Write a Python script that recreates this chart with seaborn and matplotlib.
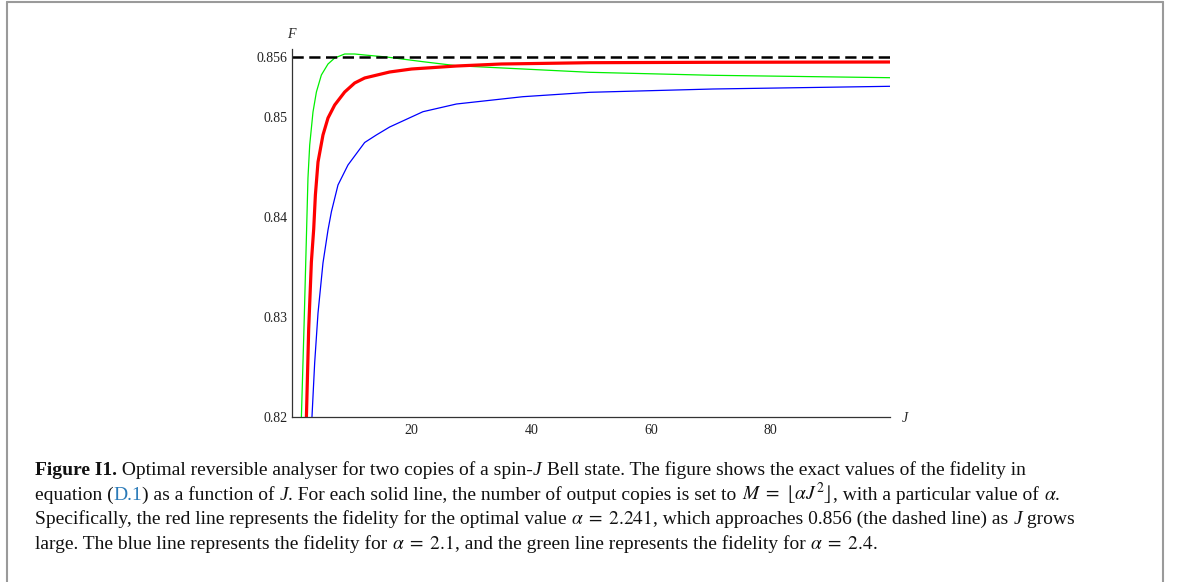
import numpy as np
import matplotlib
matplotlib.use("Agg")
import matplotlib.pyplot as plt
import seaborn as sns
from matplotlib.lines import Line2D
from matplotlib.font_manager import FontProperties

# values
J_red = [2.41, 2.79, 3.24, 3.63, 3.91, 4.35, 5.18, 6.02, 7.14, 8.81, 10.48, 12.15, 16.33,
         20, 27.5, 35, 49.8, 70, 100]
F_red = [0.8200, 0.8288, 0.8355, 0.8388, 0.8422, 0.8455, 0.8482, 0.8499, 0.8512, 0.8525,
         0.8534, 0.8539, 0.8545, 0.8548, 0.8551, 0.8553, 0.85543, 0.85547, 0.8555]

J_green = [1.57, 2.0, 2.41, 2.67, 2.96, 3.51, 4.08, 4.91, 6.02, 7.14, 8.81, 10.48, 12.15,
           15.8, 21.9, 27.5, 49.8, 70.4, 100]
F_green = [0.8200, 0.8288, 0.8380, 0.8439, 0.8472, 0.8505, 0.8525, 0.8542, 0.8553, 0.8559,
           0.8563, 0.8563, 0.8562, 0.8560, 0.85553, 0.85513, 0.85447, 0.85417, 0.85393]

J_blue = [3.34, 3.79, 4.35, 5.18, 6.02, 6.59, 7.69, 9.36, 12.15, 14.1, 16.33, 21.9, 27.5,
          38.6, 49.8, 70.4, 100]
F_blue = [0.8200, 0.8254, 0.8304, 0.8354, 0.8387, 0.84053, 0.8432, 0.8452, 0.84745, 0.8482,
          0.8490, 0.85053, 0.8513, 0.85203, 0.85247, 0.8528, 0.85307]

F_limit = 0.856
y_ticks = [0.82, 0.83, 0.84, 0.85, 0.856]
y_ticklabels = ["0.82", "0.83", "0.84", "0.85", "0.856"]
x_ticks = [20, 40, 60, 80]

caption_lines = [
    [("Figure I1.", "b"), (" Optimal reversible analyser for two copies of a spin-", "n"), ("J", "i"),
     (" Bell state. The figure shows the exact values of the fidelity in", "n")],
    [("equation (", "n"), ("D.1", "link"), (") as a function of ", "n"), ("J", "i"),
     (". For each solid line, the number of output copies is set to ", "n"),
     (r"$M\;=\;\lfloor\alpha J^{2}\rfloor$", "n"), (", with a particular value of ", "n"),
     (r"$\alpha$", "n"), (".", "n")],
    [("Specifically, the red line represents the fidelity for the optimal value ", "n"),
     (r"$\alpha\;=\;2.241$", "n"), (", which approaches 0.856 (the dashed line) as ", "n"),
     ("J", "i"), (" grows", "n")],
    [("large. The blue line represents the fidelity for ", "n"), (r"$\alpha\;=\;2.1$", "n"),
     (", and the green line represents the fidelity for ", "n"), (r"$\alpha\;=\;2.4$", "n"), (".", "n")],
]

sns.set_style("white")
plt.rcParams['font.family'] = ['Liberation Serif', 'DejaVu Serif']
plt.rcParams['mathtext.fontset'] = 'stix'

W, H = 1179, 582
fig = plt.figure(figsize=(W / 100, H / 100), dpi=100)
ax = fig.add_axes([292 / W, 1 - 417 / H, (890 - 292) / W, (417 - 49) / H])

sns.lineplot(x=J_blue, y=F_blue, color="#0000ff", lw=0.9, ax=ax)
sns.lineplot(x=J_green, y=F_green, color="#00f000", lw=0.9, ax=ax)
sns.lineplot(x=J_red, y=F_red, color="#ff0000", lw=2.3, ax=ax)
ax.plot([0, 100], [F_limit, F_limit], color="black", lw=1.8, ls=(0, (4.5, 2.2)))

ax.set_xlim(0, 100)
ax.set_ylim(0.82, 0.8568)
ax.set_xticks(x_ticks)
ax.set_xticklabels([str(v) for v in x_ticks])
ax.set_yticks(y_ticks)
ax.set_yticklabels(y_ticklabels)
ax.tick_params(direction="in", length=4, width=0.8, labelsize=10, colors="#222222")
ax.tick_params(axis="x", pad=5)
ax.tick_params(axis="y", pad=3)
sns.despine(ax=ax, top=True, right=True)
for s in ["left", "bottom"]:
    ax.spines[s].set_color("#333333")
    ax.spines[s].set_linewidth(0.9)

fig.text(291 / W, 1 - 34 / H, "F", style="italic", fontsize=10, ha="center", va="center")
fig.text(902 / W, 1 - 418 / H, "J", style="italic", fontsize=10, ha="left", va="center")

# caption, drawn run by run
renderer = fig.canvas.get_renderer()
cap_size = 14.0
styles = {
    "n": dict(),
    "b": dict(weight="bold"),
    "i": dict(style="italic"),
    "link": dict(color="#2a7ab8"),
}


def run_width(s, kw):
    fp = FontProperties(family=['Liberation Serif', 'DejaVu Serif'], size=cap_size,
                        weight=kw.get("weight", "normal"), style=kw.get("style", "normal"))
    math = "$" in s
    w1 = renderer.get_text_width_height_descent(s + "|", fp, ismath=math)[0]
    w0 = renderer.get_text_width_height_descent("|", fp, ismath=False)[0]
    return w1 - w0


baselines = [475, 499.7, 524.3, 549]
for line, yb in zip(caption_lines, baselines):
    x = 35
    for s, st in line:
        kw = styles[st]
        fig.text(x / W, 1 - yb / H, s, fontsize=cap_size, ha="left", va="baseline",
                 color=kw.get("color", "#111111"),
                 weight=kw.get("weight", "normal"), style=kw.get("style", "normal"))
        x += run_width(s, kw)

# frame around figure
box = "#9a9a9a"
fig.add_artist(Line2D([6.5 / W, 6.5 / W], [0, 1 - 1.5 / H], transform=fig.transFigure, color=box, lw=1.5))
fig.add_artist(Line2D([6.5 / W, 1163 / W], [1 - 1.5 / H, 1 - 1.5 / H], transform=fig.transFigure, color=box, lw=1.5))
fig.add_artist(Line2D([1163 / W, 1163 / W], [0, 1 - 1.5 / H], transform=fig.transFigure, color=box, lw=1.5))

fig.savefig("out.png", dpi=100)
